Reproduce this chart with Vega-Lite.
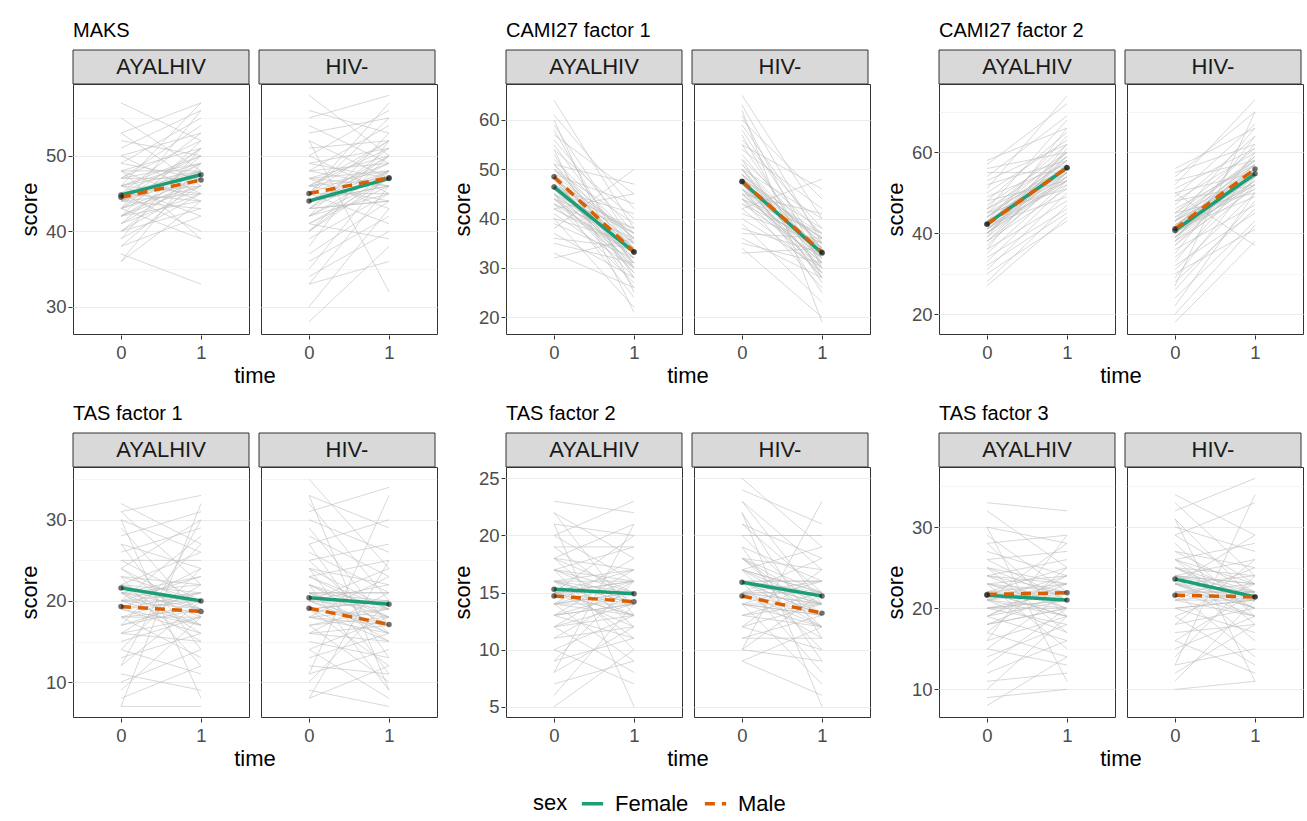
{
"$schema": "https://vega.github.io/schema/vega-lite/v6.json",
"padding": {"left": 18, "top": 20, "right": 5, "bottom": 5},
"background": "white",
"datasets": {
"MAKS": [
{"g":"AYALHIV","a":57,"b":52},{"g":"AYALHIV","a":55,"b":48},{"g":"AYALHIV","a":53,"b":57},{"g":"AYALHIV","a":52,"b":50},{"g":"AYALHIV","a":51,"b":56},{"g":"AYALHIV","a":50,"b":45},{"g":"AYALHIV","a":50,"b":53},{"g":"AYALHIV","a":49,"b":55},{"g":"AYALHIV","a":48,"b":44},{"g":"AYALHIV","a":48,"b":51},{"g":"AYALHIV","a":47,"b":49},{"g":"AYALHIV","a":47,"b":54},{"g":"AYALHIV","a":46,"b":42},{"g":"AYALHIV","a":46,"b":50},{"g":"AYALHIV","a":45,"b":48},{"g":"AYALHIV","a":45,"b":53},{"g":"AYALHIV","a":45,"b":40},{"g":"AYALHIV","a":44,"b":47},{"g":"AYALHIV","a":44,"b":51},{"g":"AYALHIV","a":44,"b":45},{"g":"AYALHIV","a":43,"b":49},{"g":"AYALHIV","a":43,"b":56},{"g":"AYALHIV","a":43,"b":39},{"g":"AYALHIV","a":42,"b":46},{"g":"AYALHIV","a":42,"b":52},{"g":"AYALHIV","a":42,"b":44},{"g":"AYALHIV","a":41,"b":47},{"g":"AYALHIV","a":41,"b":50},{"g":"AYALHIV","a":40,"b":43},{"g":"AYALHIV","a":40,"b":48},{"g":"AYALHIV","a":39,"b":45},{"g":"AYALHIV","a":39,"b":51},{"g":"AYALHIV","a":38,"b":42},{"g":"AYALHIV","a":38,"b":47},{"g":"AYALHIV","a":37,"b":33},{"g":"AYALHIV","a":36,"b":44},{"g":"AYALHIV","a":36,"b":49},{"g":"AYALHIV","a":46,"b":57},{"g":"AYALHIV","a":53,"b":46},{"g":"AYALHIV","a":48,"b":39},
{"g":"AYALHIV","a":47,"b":47},{"g":"AYALHIV","a":46,"b":48},{"g":"AYALHIV","a":45,"b":46},{"g":"AYALHIV","a":44,"b":49},{"g":"AYALHIV","a":43,"b":47},{"g":"AYALHIV","a":42,"b":48},{"g":"AYALHIV","a":46,"b":45},{"g":"AYALHIV","a":45,"b":50},{"g":"AYALHIV","a":44,"b":43},{"g":"AYALHIV","a":43,"b":46},{"g":"AYALHIV","a":48,"b":48},{"g":"AYALHIV","a":41,"b":45},{"g":"AYALHIV","a":47,"b":52},{"g":"AYALHIV","a":44,"b":48},{"g":"AYALHIV","a":45,"b":44},{"g":"AYALHIV","a":43,"b":51},{"g":"AYALHIV","a":46,"b":49},{"g":"AYALHIV","a":42,"b":47},{"g":"AYALHIV","a":49,"b":47},{"g":"AYALHIV","a":40,"b":46},
{"g":"HIV-","a":58,"b":50},{"g":"HIV-","a":56,"b":53},{"g":"HIV-","a":55,"b":58},{"g":"HIV-","a":54,"b":49},{"g":"HIV-","a":53,"b":55},{"g":"HIV-","a":52,"b":47},{"g":"HIV-","a":51,"b":52},{"g":"HIV-","a":50,"b":56},{"g":"HIV-","a":50,"b":45},{"g":"HIV-","a":49,"b":51},{"g":"HIV-","a":48,"b":54},{"g":"HIV-","a":48,"b":46},{"g":"HIV-","a":47,"b":50},{"g":"HIV-","a":47,"b":43},{"g":"HIV-","a":46,"b":52},{"g":"HIV-","a":46,"b":48},{"g":"HIV-","a":45,"b":55},{"g":"HIV-","a":45,"b":41},{"g":"HIV-","a":44,"b":49},{"g":"HIV-","a":44,"b":46},{"g":"HIV-","a":43,"b":51},{"g":"HIV-","a":43,"b":44},{"g":"HIV-","a":42,"b":48},{"g":"HIV-","a":42,"b":53},{"g":"HIV-","a":41,"b":46},{"g":"HIV-","a":41,"b":39},{"g":"HIV-","a":40,"b":47},{"g":"HIV-","a":40,"b":50},{"g":"HIV-","a":39,"b":45},{"g":"HIV-","a":38,"b":52},{"g":"HIV-","a":37,"b":44},{"g":"HIV-","a":36,"b":42},{"g":"HIV-","a":35,"b":48},{"g":"HIV-","a":34,"b":40},{"g":"HIV-","a":33,"b":46},{"g":"HIV-","a":33,"b":36},{"g":"HIV-","a":30,"b":43},{"g":"HIV-","a":28,"b":38},{"g":"HIV-","a":52,"b":32},{"g":"HIV-","a":45,"b":57},
{"g":"HIV-","a":46,"b":47},{"g":"HIV-","a":45,"b":49},{"g":"HIV-","a":44,"b":46},{"g":"HIV-","a":43,"b":48},{"g":"HIV-","a":42,"b":47},{"g":"HIV-","a":47,"b":48},{"g":"HIV-","a":45,"b":45},{"g":"HIV-","a":44,"b":50},{"g":"HIV-","a":43,"b":44},{"g":"HIV-","a":46,"b":51},{"g":"HIV-","a":48,"b":49},{"g":"HIV-","a":41,"b":47},{"g":"HIV-","a":44,"b":48},{"g":"HIV-","a":45,"b":52},{"g":"HIV-","a":42,"b":45},{"g":"HIV-","a":47,"b":46},{"g":"HIV-","a":43,"b":50},{"g":"HIV-","a":46,"b":44},{"g":"HIV-","a":40,"b":48},{"g":"HIV-","a":49,"b":47},
{"g":"AYALHIV","sex":"Female","a":44.8,"b":47.5},{"g":"AYALHIV","sex":"Male","a":44.5,"b":46.8},{"g":"HIV-","sex":"Female","a":44.0,"b":47.0},{"g":"HIV-","sex":"Male","a":45.0,"b":47.1}
],
"CAMI1": [
{"g":"AYALHIV","a":64,"b":38},{"g":"AYALHIV","a":61,"b":42},{"g":"AYALHIV","a":59,"b":35},{"g":"AYALHIV","a":58,"b":30},{"g":"AYALHIV","a":57,"b":45},{"g":"AYALHIV","a":56,"b":37},{"g":"AYALHIV","a":55,"b":33},{"g":"AYALHIV","a":54,"b":40},{"g":"AYALHIV","a":53,"b":28},{"g":"AYALHIV","a":52,"b":36},{"g":"AYALHIV","a":51,"b":47},{"g":"AYALHIV","a":51,"b":31},{"g":"AYALHIV","a":50,"b":34},{"g":"AYALHIV","a":50,"b":39},{"g":"AYALHIV","a":49,"b":26},{"g":"AYALHIV","a":49,"b":43},{"g":"AYALHIV","a":48,"b":35},{"g":"AYALHIV","a":48,"b":30},{"g":"AYALHIV","a":47,"b":37},{"g":"AYALHIV","a":47,"b":32},{"g":"AYALHIV","a":46,"b":41},{"g":"AYALHIV","a":46,"b":29},{"g":"AYALHIV","a":45,"b":34},{"g":"AYALHIV","a":45,"b":24},{"g":"AYALHIV","a":44,"b":38},{"g":"AYALHIV","a":44,"b":31},{"g":"AYALHIV","a":43,"b":36},{"g":"AYALHIV","a":43,"b":27},{"g":"AYALHIV","a":42,"b":33},{"g":"AYALHIV","a":42,"b":45},{"g":"AYALHIV","a":41,"b":30},{"g":"AYALHIV","a":40,"b":35},{"g":"AYALHIV","a":40,"b":22},{"g":"AYALHIV","a":39,"b":32},{"g":"AYALHIV","a":38,"b":50},{"g":"AYALHIV","a":37,"b":28},{"g":"AYALHIV","a":36,"b":34},{"g":"AYALHIV","a":35,"b":31},{"g":"AYALHIV","a":33,"b":26},{"g":"AYALHIV","a":32,"b":36},{"g":"AYALHIV","a":60,"b":25},{"g":"AYALHIV","a":54,"b":21},
{"g":"AYALHIV","a":48,"b":34},{"g":"AYALHIV","a":47,"b":33},{"g":"AYALHIV","a":46,"b":35},{"g":"AYALHIV","a":45,"b":32},{"g":"AYALHIV","a":49,"b":31},{"g":"AYALHIV","a":50,"b":36},{"g":"AYALHIV","a":44,"b":34},{"g":"AYALHIV","a":47,"b":30},{"g":"AYALHIV","a":46,"b":38},{"g":"AYALHIV","a":48,"b":29},{"g":"AYALHIV","a":43,"b":33},{"g":"AYALHIV","a":51,"b":35},{"g":"AYALHIV","a":45,"b":37},{"g":"AYALHIV","a":47,"b":34},{"g":"AYALHIV","a":44,"b":30},{"g":"AYALHIV","a":49,"b":36},{"g":"AYALHIV","a":46,"b":32},{"g":"AYALHIV","a":42,"b":34},{"g":"AYALHIV","a":48,"b":37},{"g":"AYALHIV","a":45,"b":28},
{"g":"HIV-","a":65,"b":40},{"g":"HIV-","a":63,"b":35},{"g":"HIV-","a":61,"b":30},{"g":"HIV-","a":60,"b":44},{"g":"HIV-","a":59,"b":36},{"g":"HIV-","a":58,"b":33},{"g":"HIV-","a":57,"b":28},{"g":"HIV-","a":56,"b":38},{"g":"HIV-","a":55,"b":31},{"g":"HIV-","a":54,"b":42},{"g":"HIV-","a":53,"b":34},{"g":"HIV-","a":52,"b":27},{"g":"HIV-","a":52,"b":37},{"g":"HIV-","a":51,"b":32},{"g":"HIV-","a":50,"b":29},{"g":"HIV-","a":50,"b":40},{"g":"HIV-","a":49,"b":35},{"g":"HIV-","a":49,"b":25},{"g":"HIV-","a":48,"b":33},{"g":"HIV-","a":48,"b":38},{"g":"HIV-","a":47,"b":30},{"g":"HIV-","a":47,"b":36},{"g":"HIV-","a":46,"b":28},{"g":"HIV-","a":46,"b":34},{"g":"HIV-","a":45,"b":41},{"g":"HIV-","a":45,"b":31},{"g":"HIV-","a":44,"b":26},{"g":"HIV-","a":44,"b":37},{"g":"HIV-","a":43,"b":32},{"g":"HIV-","a":42,"b":29},{"g":"HIV-","a":42,"b":48},{"g":"HIV-","a":41,"b":35},{"g":"HIV-","a":40,"b":30},{"g":"HIV-","a":39,"b":23},{"g":"HIV-","a":38,"b":33},{"g":"HIV-","a":37,"b":36},{"g":"HIV-","a":36,"b":28},{"g":"HIV-","a":35,"b":31},{"g":"HIV-","a":34,"b":20},{"g":"HIV-","a":33,"b":34},{"g":"HIV-","a":62,"b":19},{"g":"HIV-","a":55,"b":46},
{"g":"HIV-","a":48,"b":33},{"g":"HIV-","a":47,"b":34},{"g":"HIV-","a":46,"b":32},{"g":"HIV-","a":49,"b":35},{"g":"HIV-","a":45,"b":33},{"g":"HIV-","a":50,"b":31},{"g":"HIV-","a":47,"b":30},{"g":"HIV-","a":48,"b":36},{"g":"HIV-","a":44,"b":34},{"g":"HIV-","a":46,"b":29},{"g":"HIV-","a":51,"b":34},{"g":"HIV-","a":47,"b":37},{"g":"HIV-","a":45,"b":31},{"g":"HIV-","a":49,"b":32},{"g":"HIV-","a":43,"b":35},{"g":"HIV-","a":48,"b":28},{"g":"HIV-","a":46,"b":36},{"g":"HIV-","a":50,"b":33},{"g":"HIV-","a":44,"b":30},{"g":"HIV-","a":47,"b":32},
{"g":"AYALHIV","sex":"Female","a":46.4,"b":33.2},{"g":"AYALHIV","sex":"Male","a":48.5,"b":33.3},{"g":"HIV-","sex":"Female","a":47.5,"b":33.0},{"g":"HIV-","sex":"Male","a":47.6,"b":33.2}
],
"CAMI2": [
{"g":"AYALHIV","a":58,"b":66},{"g":"AYALHIV","a":57,"b":72},{"g":"AYALHIV","a":56,"b":60},{"g":"AYALHIV","a":55,"b":55},{"g":"AYALHIV","a":54,"b":69},{"g":"AYALHIV","a":53,"b":62},{"g":"AYALHIV","a":52,"b":58},{"g":"AYALHIV","a":51,"b":74},{"g":"AYALHIV","a":50,"b":63},{"g":"AYALHIV","a":49,"b":57},{"g":"AYALHIV","a":48,"b":65},{"g":"AYALHIV","a":48,"b":53},{"g":"AYALHIV","a":47,"b":60},{"g":"AYALHIV","a":46,"b":56},{"g":"AYALHIV","a":46,"b":68},{"g":"AYALHIV","a":45,"b":62},{"g":"AYALHIV","a":45,"b":51},{"g":"AYALHIV","a":44,"b":58},{"g":"AYALHIV","a":43,"b":64},{"g":"AYALHIV","a":43,"b":54},{"g":"AYALHIV","a":42,"b":60},{"g":"AYALHIV","a":42,"b":49},{"g":"AYALHIV","a":41,"b":56},{"g":"AYALHIV","a":41,"b":66},{"g":"AYALHIV","a":40,"b":53},{"g":"AYALHIV","a":40,"b":59},{"g":"AYALHIV","a":39,"b":62},{"g":"AYALHIV","a":38,"b":51},{"g":"AYALHIV","a":38,"b":57},{"g":"AYALHIV","a":37,"b":55},{"g":"AYALHIV","a":36,"b":48},{"g":"AYALHIV","a":36,"b":61},{"g":"AYALHIV","a":35,"b":53},{"g":"AYALHIV","a":34,"b":46},{"g":"AYALHIV","a":33,"b":52},{"g":"AYALHIV","a":32,"b":45},{"g":"AYALHIV","a":31,"b":50},{"g":"AYALHIV","a":30,"b":43},{"g":"AYALHIV","a":28,"b":47},{"g":"AYALHIV","a":27,"b":44},
{"g":"AYALHIV","a":42,"b":56},{"g":"AYALHIV","a":43,"b":57},{"g":"AYALHIV","a":41,"b":55},{"g":"AYALHIV","a":44,"b":58},{"g":"AYALHIV","a":40,"b":54},{"g":"AYALHIV","a":42,"b":59},{"g":"AYALHIV","a":43,"b":53},{"g":"AYALHIV","a":41,"b":57},{"g":"AYALHIV","a":45,"b":56},{"g":"AYALHIV","a":39,"b":55},{"g":"AYALHIV","a":42,"b":52},{"g":"AYALHIV","a":44,"b":60},{"g":"AYALHIV","a":40,"b":57},{"g":"AYALHIV","a":43,"b":55},{"g":"AYALHIV","a":41,"b":53},{"g":"AYALHIV","a":46,"b":59},{"g":"AYALHIV","a":38,"b":54},{"g":"AYALHIV","a":42,"b":58},{"g":"AYALHIV","a":44,"b":55},{"g":"AYALHIV","a":40,"b":56},
{"g":"HIV-","a":56,"b":66},{"g":"HIV-","a":55,"b":62},{"g":"HIV-","a":54,"b":70},{"g":"HIV-","a":53,"b":58},{"g":"HIV-","a":52,"b":73},{"g":"HIV-","a":51,"b":61},{"g":"HIV-","a":50,"b":55},{"g":"HIV-","a":49,"b":67},{"g":"HIV-","a":48,"b":60},{"g":"HIV-","a":48,"b":52},{"g":"HIV-","a":47,"b":64},{"g":"HIV-","a":46,"b":57},{"g":"HIV-","a":45,"b":61},{"g":"HIV-","a":45,"b":50},{"g":"HIV-","a":44,"b":58},{"g":"HIV-","a":43,"b":66},{"g":"HIV-","a":43,"b":54},{"g":"HIV-","a":42,"b":56},{"g":"HIV-","a":41,"b":62},{"g":"HIV-","a":41,"b":49},{"g":"HIV-","a":40,"b":59},{"g":"HIV-","a":40,"b":53},{"g":"HIV-","a":39,"b":57},{"g":"HIV-","a":38,"b":64},{"g":"HIV-","a":38,"b":51},{"g":"HIV-","a":37,"b":55},{"g":"HIV-","a":36,"b":47},{"g":"HIV-","a":35,"b":60},{"g":"HIV-","a":34,"b":52},{"g":"HIV-","a":33,"b":56},{"g":"HIV-","a":32,"b":45},{"g":"HIV-","a":31,"b":50},{"g":"HIV-","a":30,"b":41},{"g":"HIV-","a":29,"b":54},{"g":"HIV-","a":28,"b":46},{"g":"HIV-","a":26,"b":48},{"g":"HIV-","a":24,"b":43},{"g":"HIV-","a":22,"b":50},{"g":"HIV-","a":20,"b":42},{"g":"HIV-","a":18,"b":38},{"g":"HIV-","a":50,"b":37},{"g":"HIV-","a":27,"b":70},
{"g":"HIV-","a":41,"b":55},{"g":"HIV-","a":42,"b":56},{"g":"HIV-","a":40,"b":54},{"g":"HIV-","a":43,"b":57},{"g":"HIV-","a":39,"b":53},{"g":"HIV-","a":41,"b":58},{"g":"HIV-","a":42,"b":52},{"g":"HIV-","a":40,"b":56},{"g":"HIV-","a":44,"b":55},{"g":"HIV-","a":38,"b":54},{"g":"HIV-","a":41,"b":51},{"g":"HIV-","a":43,"b":59},{"g":"HIV-","a":39,"b":56},{"g":"HIV-","a":42,"b":54},{"g":"HIV-","a":40,"b":52},{"g":"HIV-","a":45,"b":58},{"g":"HIV-","a":37,"b":53},{"g":"HIV-","a":41,"b":57},{"g":"HIV-","a":43,"b":54},{"g":"HIV-","a":39,"b":55},
{"g":"AYALHIV","sex":"Female","a":42.3,"b":56.2},{"g":"AYALHIV","sex":"Male","a":42.2,"b":56.2},{"g":"HIV-","sex":"Female","a":40.7,"b":54.7},{"g":"HIV-","sex":"Male","a":41.1,"b":55.9}
],
"TAS1": [
{"g":"AYALHIV","a":32,"b":27},{"g":"AYALHIV","a":31,"b":33},{"g":"AYALHIV","a":31,"b":22},{"g":"AYALHIV","a":30,"b":26},{"g":"AYALHIV","a":29,"b":18},{"g":"AYALHIV","a":28,"b":31},{"g":"AYALHIV","a":27,"b":24},{"g":"AYALHIV","a":27,"b":14},{"g":"AYALHIV","a":26,"b":29},{"g":"AYALHIV","a":25,"b":20},{"g":"AYALHIV","a":25,"b":25},{"g":"AYALHIV","a":24,"b":17},{"g":"AYALHIV","a":24,"b":30},{"g":"AYALHIV","a":23,"b":22},{"g":"AYALHIV","a":23,"b":12},{"g":"AYALHIV","a":22,"b":19},{"g":"AYALHIV","a":22,"b":26},{"g":"AYALHIV","a":21,"b":23},{"g":"AYALHIV","a":21,"b":15},{"g":"AYALHIV","a":20,"b":20},{"g":"AYALHIV","a":20,"b":28},{"g":"AYALHIV","a":19,"b":17},{"g":"AYALHIV","a":19,"b":24},{"g":"AYALHIV","a":18,"b":13},{"g":"AYALHIV","a":18,"b":21},{"g":"AYALHIV","a":17,"b":19},{"g":"AYALHIV","a":17,"b":27},{"g":"AYALHIV","a":16,"b":15},{"g":"AYALHIV","a":16,"b":22},{"g":"AYALHIV","a":15,"b":18},{"g":"AYALHIV","a":14,"b":11},{"g":"AYALHIV","a":14,"b":24},{"g":"AYALHIV","a":13,"b":16},{"g":"AYALHIV","a":12,"b":20},{"g":"AYALHIV","a":11,"b":9},{"g":"AYALHIV","a":10,"b":14},{"g":"AYALHIV","a":9,"b":18},{"g":"AYALHIV","a":8,"b":12},{"g":"AYALHIV","a":7,"b":7},{"g":"AYALHIV","a":7,"b":32},{"g":"AYALHIV","a":30,"b":8},{"g":"AYALHIV","a":12,"b":30},
{"g":"AYALHIV","a":21,"b":19},{"g":"AYALHIV","a":20,"b":21},{"g":"AYALHIV","a":22,"b":18},{"g":"AYALHIV","a":19,"b":20},{"g":"AYALHIV","a":20,"b":17},{"g":"AYALHIV","a":23,"b":20},{"g":"AYALHIV","a":18,"b":19},{"g":"AYALHIV","a":21,"b":22},{"g":"AYALHIV","a":19,"b":16},{"g":"AYALHIV","a":22,"b":21},{"g":"AYALHIV","a":20,"b":19},{"g":"AYALHIV","a":17,"b":20},{"g":"AYALHIV","a":21,"b":17},{"g":"AYALHIV","a":24,"b":19},{"g":"AYALHIV","a":18,"b":18},{"g":"AYALHIV","a":20,"b":23},{"g":"AYALHIV","a":22,"b":16},{"g":"AYALHIV","a":19,"b":21},{"g":"AYALHIV","a":16,"b":18},{"g":"AYALHIV","a":21,"b":20},
{"g":"HIV-","a":35,"b":24},{"g":"HIV-","a":33,"b":29},{"g":"HIV-","a":32,"b":20},{"g":"HIV-","a":31,"b":34},{"g":"HIV-","a":30,"b":26},{"g":"HIV-","a":29,"b":17},{"g":"HIV-","a":28,"b":23},{"g":"HIV-","a":27,"b":30},{"g":"HIV-","a":27,"b":13},{"g":"HIV-","a":26,"b":21},{"g":"HIV-","a":25,"b":27},{"g":"HIV-","a":25,"b":16},{"g":"HIV-","a":24,"b":22},{"g":"HIV-","a":24,"b":11},{"g":"HIV-","a":23,"b":19},{"g":"HIV-","a":23,"b":25},{"g":"HIV-","a":22,"b":18},{"g":"HIV-","a":22,"b":9},{"g":"HIV-","a":21,"b":21},{"g":"HIV-","a":21,"b":15},{"g":"HIV-","a":20,"b":24},{"g":"HIV-","a":20,"b":17},{"g":"HIV-","a":19,"b":20},{"g":"HIV-","a":19,"b":12},{"g":"HIV-","a":18,"b":16},{"g":"HIV-","a":18,"b":23},{"g":"HIV-","a":17,"b":19},{"g":"HIV-","a":17,"b":10},{"g":"HIV-","a":16,"b":15},{"g":"HIV-","a":16,"b":21},{"g":"HIV-","a":15,"b":13},{"g":"HIV-","a":14,"b":18},{"g":"HIV-","a":14,"b":8},{"g":"HIV-","a":13,"b":16},{"g":"HIV-","a":12,"b":11},{"g":"HIV-","a":11,"b":14},{"g":"HIV-","a":10,"b":20},{"g":"HIV-","a":9,"b":7},{"g":"HIV-","a":8,"b":12},{"g":"HIV-","a":8,"b":25},{"g":"HIV-","a":33,"b":9},{"g":"HIV-","a":11,"b":33},
{"g":"HIV-","a":20,"b":19},{"g":"HIV-","a":21,"b":18},{"g":"HIV-","a":19,"b":20},{"g":"HIV-","a":22,"b":17},{"g":"HIV-","a":20,"b":16},{"g":"HIV-","a":18,"b":19},{"g":"HIV-","a":21,"b":21},{"g":"HIV-","a":19,"b":17},{"g":"HIV-","a":23,"b":18},{"g":"HIV-","a":20,"b":20},{"g":"HIV-","a":17,"b":18},{"g":"HIV-","a":22,"b":19},{"g":"HIV-","a":19,"b":15},{"g":"HIV-","a":21,"b":16},{"g":"HIV-","a":20,"b":22},{"g":"HIV-","a":18,"b":17},{"g":"HIV-","a":24,"b":19},{"g":"HIV-","a":19,"b":18},{"g":"HIV-","a":21,"b":20},{"g":"HIV-","a":16,"b":17},
{"g":"AYALHIV","sex":"Female","a":21.6,"b":20.0},{"g":"AYALHIV","sex":"Male","a":19.3,"b":18.7},{"g":"HIV-","sex":"Female","a":20.4,"b":19.6},{"g":"HIV-","sex":"Male","a":19.1,"b":17.1}
],
"TAS2": [
{"g":"AYALHIV","a":23,"b":22},{"g":"AYALHIV","a":22,"b":18},{"g":"AYALHIV","a":22,"b":13},{"g":"AYALHIV","a":21,"b":20},{"g":"AYALHIV","a":20,"b":16},{"g":"AYALHIV","a":20,"b":23},{"g":"AYALHIV","a":19,"b":14},{"g":"AYALHIV","a":19,"b":19},{"g":"AYALHIV","a":18,"b":12},{"g":"AYALHIV","a":18,"b":17},{"g":"AYALHIV","a":18,"b":21},{"g":"AYALHIV","a":17,"b":15},{"g":"AYALHIV","a":17,"b":10},{"g":"AYALHIV","a":17,"b":19},{"g":"AYALHIV","a":16,"b":14},{"g":"AYALHIV","a":16,"b":17},{"g":"AYALHIV","a":16,"b":11},{"g":"AYALHIV","a":15,"b":16},{"g":"AYALHIV","a":15,"b":13},{"g":"AYALHIV","a":15,"b":20},{"g":"AYALHIV","a":14,"b":15},{"g":"AYALHIV","a":14,"b":9},{"g":"AYALHIV","a":14,"b":18},{"g":"AYALHIV","a":13,"b":14},{"g":"AYALHIV","a":13,"b":11},{"g":"AYALHIV","a":13,"b":17},{"g":"AYALHIV","a":12,"b":13},{"g":"AYALHIV","a":12,"b":16},{"g":"AYALHIV","a":12,"b":8},{"g":"AYALHIV","a":11,"b":12},{"g":"AYALHIV","a":11,"b":15},{"g":"AYALHIV","a":10,"b":13},{"g":"AYALHIV","a":10,"b":7},{"g":"AYALHIV","a":9,"b":11},{"g":"AYALHIV","a":9,"b":16},{"g":"AYALHIV","a":8,"b":12},{"g":"AYALHIV","a":7,"b":9},{"g":"AYALHIV","a":6,"b":14},{"g":"AYALHIV","a":5,"b":10},{"g":"AYALHIV","a":21,"b":5},{"g":"AYALHIV","a":8,"b":21},
{"g":"AYALHIV","a":15,"b":15},{"g":"AYALHIV","a":16,"b":14},{"g":"AYALHIV","a":14,"b":15},{"g":"AYALHIV","a":15,"b":13},{"g":"AYALHIV","a":16,"b":16},{"g":"AYALHIV","a":14,"b":14},{"g":"AYALHIV","a":15,"b":16},{"g":"AYALHIV","a":17,"b":14},{"g":"AYALHIV","a":13,"b":15},{"g":"AYALHIV","a":15,"b":14},{"g":"AYALHIV","a":16,"b":13},{"g":"AYALHIV","a":14,"b":16},{"g":"AYALHIV","a":15,"b":12},{"g":"AYALHIV","a":17,"b":16},{"g":"AYALHIV","a":13,"b":14},{"g":"AYALHIV","a":16,"b":15},{"g":"AYALHIV","a":14,"b":13},{"g":"AYALHIV","a":15,"b":17},{"g":"AYALHIV","a":18,"b":15},{"g":"AYALHIV","a":12,"b":14},
{"g":"HIV-","a":25,"b":19},{"g":"HIV-","a":24,"b":21},{"g":"HIV-","a":23,"b":14},{"g":"HIV-","a":23,"b":17},{"g":"HIV-","a":22,"b":11},{"g":"HIV-","a":21,"b":18},{"g":"HIV-","a":21,"b":15},{"g":"HIV-","a":20,"b":20},{"g":"HIV-","a":20,"b":13},{"g":"HIV-","a":19,"b":16},{"g":"HIV-","a":19,"b":9},{"g":"HIV-","a":18,"b":14},{"g":"HIV-","a":18,"b":17},{"g":"HIV-","a":18,"b":12},{"g":"HIV-","a":17,"b":15},{"g":"HIV-","a":17,"b":19},{"g":"HIV-","a":17,"b":10},{"g":"HIV-","a":16,"b":13},{"g":"HIV-","a":16,"b":16},{"g":"HIV-","a":16,"b":8},{"g":"HIV-","a":15,"b":14},{"g":"HIV-","a":15,"b":18},{"g":"HIV-","a":15,"b":11},{"g":"HIV-","a":14,"b":13},{"g":"HIV-","a":14,"b":16},{"g":"HIV-","a":14,"b":7},{"g":"HIV-","a":13,"b":12},{"g":"HIV-","a":13,"b":15},{"g":"HIV-","a":12,"b":10},{"g":"HIV-","a":12,"b":14},{"g":"HIV-","a":12,"b":17},{"g":"HIV-","a":11,"b":11},{"g":"HIV-","a":11,"b":13},{"g":"HIV-","a":10,"b":9},{"g":"HIV-","a":10,"b":15},{"g":"HIV-","a":9,"b":12},{"g":"HIV-","a":9,"b":6},{"g":"HIV-","a":22,"b":5},{"g":"HIV-","a":10,"b":23},
{"g":"HIV-","a":16,"b":14},{"g":"HIV-","a":15,"b":14},{"g":"HIV-","a":17,"b":15},{"g":"HIV-","a":15,"b":13},{"g":"HIV-","a":16,"b":15},{"g":"HIV-","a":14,"b":14},{"g":"HIV-","a":16,"b":12},{"g":"HIV-","a":17,"b":14},{"g":"HIV-","a":15,"b":15},{"g":"HIV-","a":18,"b":13},{"g":"HIV-","a":14,"b":13},{"g":"HIV-","a":16,"b":16},{"g":"HIV-","a":15,"b":12},{"g":"HIV-","a":17,"b":13},{"g":"HIV-","a":13,"b":14},{"g":"HIV-","a":16,"b":13},{"g":"HIV-","a":18,"b":15},{"g":"HIV-","a":15,"b":16},{"g":"HIV-","a":14,"b":12},{"g":"HIV-","a":16,"b":14},
{"g":"AYALHIV","sex":"Female","a":15.3,"b":14.9},{"g":"AYALHIV","sex":"Male","a":14.7,"b":14.2},{"g":"HIV-","sex":"Female","a":15.9,"b":14.7},{"g":"HIV-","sex":"Male","a":14.7,"b":13.2}
],
"TAS3": [
{"g":"AYALHIV","a":33,"b":32},{"g":"AYALHIV","a":32,"b":25},{"g":"AYALHIV","a":30,"b":28},{"g":"AYALHIV","a":29,"b":22},{"g":"AYALHIV","a":28,"b":29},{"g":"AYALHIV","a":28,"b":19},{"g":"AYALHIV","a":27,"b":24},{"g":"AYALHIV","a":26,"b":27},{"g":"AYALHIV","a":26,"b":21},{"g":"AYALHIV","a":25,"b":17},{"g":"AYALHIV","a":25,"b":23},{"g":"AYALHIV","a":24,"b":26},{"g":"AYALHIV","a":24,"b":20},{"g":"AYALHIV","a":23,"b":22},{"g":"AYALHIV","a":23,"b":15},{"g":"AYALHIV","a":22,"b":25},{"g":"AYALHIV","a":22,"b":19},{"g":"AYALHIV","a":21,"b":23},{"g":"AYALHIV","a":21,"b":17},{"g":"AYALHIV","a":21,"b":28},{"g":"AYALHIV","a":20,"b":21},{"g":"AYALHIV","a":20,"b":18},{"g":"AYALHIV","a":19,"b":24},{"g":"AYALHIV","a":19,"b":16},{"g":"AYALHIV","a":18,"b":22},{"g":"AYALHIV","a":18,"b":20},{"g":"AYALHIV","a":17,"b":14},{"g":"AYALHIV","a":17,"b":25},{"g":"AYALHIV","a":16,"b":19},{"g":"AYALHIV","a":15,"b":22},{"g":"AYALHIV","a":15,"b":13},{"g":"AYALHIV","a":14,"b":18},{"g":"AYALHIV","a":13,"b":20},{"g":"AYALHIV","a":12,"b":16},{"g":"AYALHIV","a":11,"b":12},{"g":"AYALHIV","a":10,"b":19},{"g":"AYALHIV","a":9,"b":10},{"g":"AYALHIV","a":8,"b":14},{"g":"AYALHIV","a":30,"b":11},{"g":"AYALHIV","a":16,"b":29},
{"g":"AYALHIV","a":22,"b":21},{"g":"AYALHIV","a":21,"b":22},{"g":"AYALHIV","a":23,"b":21},{"g":"AYALHIV","a":20,"b":20},{"g":"AYALHIV","a":22,"b":23},{"g":"AYALHIV","a":21,"b":20},{"g":"AYALHIV","a":24,"b":22},{"g":"AYALHIV","a":19,"b":21},{"g":"AYALHIV","a":22,"b":19},{"g":"AYALHIV","a":23,"b":24},{"g":"AYALHIV","a":20,"b":22},{"g":"AYALHIV","a":21,"b":24},{"g":"AYALHIV","a":25,"b":21},{"g":"AYALHIV","a":18,"b":20},{"g":"AYALHIV","a":22,"b":22},{"g":"AYALHIV","a":21,"b":19},{"g":"AYALHIV","a":24,"b":23},{"g":"AYALHIV","a":20,"b":21},{"g":"AYALHIV","a":23,"b":20},{"g":"AYALHIV","a":19,"b":23},
{"g":"HIV-","a":34,"b":29},{"g":"HIV-","a":33,"b":24},{"g":"HIV-","a":32,"b":36},{"g":"HIV-","a":31,"b":21},{"g":"HIV-","a":30,"b":27},{"g":"HIV-","a":29,"b":23},{"g":"HIV-","a":29,"b":33},{"g":"HIV-","a":28,"b":19},{"g":"HIV-","a":27,"b":25},{"g":"HIV-","a":27,"b":22},{"g":"HIV-","a":26,"b":28},{"g":"HIV-","a":26,"b":18},{"g":"HIV-","a":25,"b":24},{"g":"HIV-","a":25,"b":21},{"g":"HIV-","a":24,"b":26},{"g":"HIV-","a":24,"b":16},{"g":"HIV-","a":24,"b":23},{"g":"HIV-","a":23,"b":20},{"g":"HIV-","a":23,"b":29},{"g":"HIV-","a":22,"b":22},{"g":"HIV-","a":22,"b":14},{"g":"HIV-","a":21,"b":25},{"g":"HIV-","a":21,"b":19},{"g":"HIV-","a":20,"b":21},{"g":"HIV-","a":20,"b":17},{"g":"HIV-","a":19,"b":23},{"g":"HIV-","a":19,"b":13},{"g":"HIV-","a":18,"b":20},{"g":"HIV-","a":18,"b":26},{"g":"HIV-","a":17,"b":18},{"g":"HIV-","a":16,"b":22},{"g":"HIV-","a":16,"b":12},{"g":"HIV-","a":15,"b":19},{"g":"HIV-","a":14,"b":24},{"g":"HIV-","a":13,"b":15},{"g":"HIV-","a":12,"b":18},{"g":"HIV-","a":11,"b":21},{"g":"HIV-","a":10,"b":11},{"g":"HIV-","a":31,"b":11},{"g":"HIV-","a":13,"b":34},
{"g":"HIV-","a":23,"b":21},{"g":"HIV-","a":24,"b":22},{"g":"HIV-","a":22,"b":21},{"g":"HIV-","a":23,"b":20},{"g":"HIV-","a":25,"b":22},{"g":"HIV-","a":22,"b":23},{"g":"HIV-","a":24,"b":20},{"g":"HIV-","a":21,"b":21},{"g":"HIV-","a":23,"b":22},{"g":"HIV-","a":26,"b":21},{"g":"HIV-","a":22,"b":19},{"g":"HIV-","a":24,"b":23},{"g":"HIV-","a":20,"b":21},{"g":"HIV-","a":23,"b":24},{"g":"HIV-","a":25,"b":20},{"g":"HIV-","a":21,"b":22},{"g":"HIV-","a":24,"b":21},{"g":"HIV-","a":22,"b":22},{"g":"HIV-","a":26,"b":23},{"g":"HIV-","a":23,"b":19},
{"g":"AYALHIV","sex":"Female","a":21.6,"b":21.0},{"g":"AYALHIV","sex":"Male","a":21.7,"b":21.9},{"g":"HIV-","sex":"Female","a":23.6,"b":21.4},{"g":"HIV-","sex":"Male","a":21.6,"b":21.4}
],
"groups": [{"g":"AYALHIV"},{"g":"HIV-"}]
},
"vconcat": [
{"hconcat": [
{"spacing": 0, "bounds": "flush", "vconcat": [
 {"width": 362, "height": 34, "title": {"text": "MAKS"}, "data": {"name": "groups"}, "view": {"stroke": null},
  "layer": [
   {"mark": {"type": "rect", "fill": "#d9d9d9", "stroke": "#333333", "strokeWidth": 1},
    "encoding": {"x": {"field": "g", "type": "nominal", "scale": {"paddingInner": 0.0538, "paddingOuter": 0}, "axis": null},
                 "y": {"datum": 0, "type": "quantitative", "scale": {"domain": [0, 1]}, "axis": null}, "y2": {"datum": 1}}},
   {"mark": {"type": "text", "fontSize": 22, "color": "#1a1a1a"},
    "encoding": {"x": {"field": "g", "type": "nominal", "axis": null}, "text": {"field": "g"}}}
  ]},
 {"data": {"name": "MAKS"}, "facet": {"column": {"field": "g", "type": "nominal", "header": {"title": "time", "titleOrient": "bottom", "labels": false}}}, "spacing": 10,
  "spec": {"width": 176, "height": 250, "layer": [
   {"transform": [{"filter": "!isValid(datum.sex)"}], "mark": {"type": "rule", "stroke": "#bdbdbd", "strokeWidth": 0.8, "opacity": 0.75},
    "encoding": {"x": {"datum": 0, "type": "quantitative", "scale": {"domain": [-0.6, 1.6], "nice": false, "zero": false}, "axis": {"values": [0, 1], "title": null, "format": "d"}},
     "x2": {"datum": 1},
     "y": {"field": "a", "type": "quantitative", "title": "score", "scale": {"domain": [26.4, 59.5], "nice": false, "zero": false},
      "axis": {"values": [30, 35, 40, 45, 50, 55], "labelExpr": "datum.value % 10 === 0 ? datum.label : ''",
       "gridWidth": {"condition": {"test": "datum.value % 10 === 0", "value": 1}, "value": 0.5},
       "tickOpacity": {"condition": {"test": "datum.value % 10 === 0", "value": 1}, "value": 0}}},
     "y2": {"field": "b"}}},
   {"transform": [{"filter": "isValid(datum.sex)"}], "mark": {"type": "rule", "strokeWidth": 3.5},
    "encoding": {"x": {"datum": 0, "type": "quantitative"}, "x2": {"datum": 1}, "y": {"field": "a", "type": "quantitative"}, "y2": {"field": "b"},
     "color": {"field": "sex", "type": "nominal", "title": "sex", "scale": {"domain": ["Female", "Male"], "range": ["#1b9e77", "#d95f02"]}},
     "strokeDash": {"field": "sex", "type": "nominal", "title": "sex", "scale": {"domain": ["Female", "Male"], "range": [[1, 0], [10, 7]]}}}},
   {"transform": [{"filter": "isValid(datum.sex)"}], "mark": {"type": "point", "filled": true, "color": "#222222", "opacity": 0.65, "size": 30},
    "encoding": {"x": {"datum": 0, "type": "quantitative"}, "y": {"field": "a", "type": "quantitative"}}},
   {"transform": [{"filter": "isValid(datum.sex)"}], "mark": {"type": "point", "filled": true, "color": "#222222", "opacity": 0.65, "size": 30},
    "encoding": {"x": {"datum": 1, "type": "quantitative"}, "y": {"field": "b", "type": "quantitative"}}}
  ]}}
]},
{"spacing": 0, "bounds": "flush", "vconcat": [
 {"width": 362, "height": 34, "title": {"text": "CAMI27 factor 1"}, "data": {"name": "groups"}, "view": {"stroke": null},
  "layer": [
   {"mark": {"type": "rect", "fill": "#d9d9d9", "stroke": "#333333", "strokeWidth": 1},
    "encoding": {"x": {"field": "g", "type": "nominal", "scale": {"paddingInner": 0.0538, "paddingOuter": 0}, "axis": null},
                 "y": {"datum": 0, "type": "quantitative", "scale": {"domain": [0, 1]}, "axis": null}, "y2": {"datum": 1}}},
   {"mark": {"type": "text", "fontSize": 22, "color": "#1a1a1a"},
    "encoding": {"x": {"field": "g", "type": "nominal", "axis": null}, "text": {"field": "g"}}}
  ]},
 {"data": {"name": "CAMI1"}, "facet": {"column": {"field": "g", "type": "nominal", "header": {"title": "time", "titleOrient": "bottom", "labels": false}}}, "spacing": 10,
  "spec": {"width": 176, "height": 250, "layer": [
   {"transform": [{"filter": "!isValid(datum.sex)"}], "mark": {"type": "rule", "stroke": "#bdbdbd", "strokeWidth": 0.8, "opacity": 0.75},
    "encoding": {"x": {"datum": 0, "type": "quantitative", "scale": {"domain": [-0.6, 1.6], "nice": false, "zero": false}, "axis": {"values": [0, 1], "title": null, "format": "d"}},
     "x2": {"datum": 1},
     "y": {"field": "a", "type": "quantitative", "title": "score", "scale": {"domain": [16.6, 67.3], "nice": false, "zero": false},
      "axis": {"values": [20, 25, 30, 35, 40, 45, 50, 55, 60, 65], "labelExpr": "datum.value % 10 === 0 ? datum.label : ''",
       "gridWidth": {"condition": {"test": "datum.value % 10 === 0", "value": 1}, "value": 0.5},
       "tickOpacity": {"condition": {"test": "datum.value % 10 === 0", "value": 1}, "value": 0}}},
     "y2": {"field": "b"}}},
   {"transform": [{"filter": "isValid(datum.sex)"}], "mark": {"type": "rule", "strokeWidth": 3.5},
    "encoding": {"x": {"datum": 0, "type": "quantitative"}, "x2": {"datum": 1}, "y": {"field": "a", "type": "quantitative"}, "y2": {"field": "b"},
     "color": {"field": "sex", "type": "nominal", "title": "sex", "scale": {"domain": ["Female", "Male"], "range": ["#1b9e77", "#d95f02"]}},
     "strokeDash": {"field": "sex", "type": "nominal", "title": "sex", "scale": {"domain": ["Female", "Male"], "range": [[1, 0], [10, 7]]}}}},
   {"transform": [{"filter": "isValid(datum.sex)"}], "mark": {"type": "point", "filled": true, "color": "#222222", "opacity": 0.65, "size": 30},
    "encoding": {"x": {"datum": 0, "type": "quantitative"}, "y": {"field": "a", "type": "quantitative"}}},
   {"transform": [{"filter": "isValid(datum.sex)"}], "mark": {"type": "point", "filled": true, "color": "#222222", "opacity": 0.65, "size": 30},
    "encoding": {"x": {"datum": 1, "type": "quantitative"}, "y": {"field": "b", "type": "quantitative"}}}
  ]}}
]},
{"spacing": 0, "bounds": "flush", "vconcat": [
 {"width": 362, "height": 34, "title": {"text": "CAMI27 factor 2"}, "data": {"name": "groups"}, "view": {"stroke": null},
  "layer": [
   {"mark": {"type": "rect", "fill": "#d9d9d9", "stroke": "#333333", "strokeWidth": 1},
    "encoding": {"x": {"field": "g", "type": "nominal", "scale": {"paddingInner": 0.0538, "paddingOuter": 0}, "axis": null},
                 "y": {"datum": 0, "type": "quantitative", "scale": {"domain": [0, 1]}, "axis": null}, "y2": {"datum": 1}}},
   {"mark": {"type": "text", "fontSize": 22, "color": "#1a1a1a"},
    "encoding": {"x": {"field": "g", "type": "nominal", "axis": null}, "text": {"field": "g"}}}
  ]},
 {"data": {"name": "CAMI2"}, "facet": {"column": {"field": "g", "type": "nominal", "header": {"title": "time", "titleOrient": "bottom", "labels": false}}}, "spacing": 10,
  "spec": {"width": 176, "height": 250, "layer": [
   {"transform": [{"filter": "!isValid(datum.sex)"}], "mark": {"type": "rule", "stroke": "#bdbdbd", "strokeWidth": 0.8, "opacity": 0.75},
    "encoding": {"x": {"datum": 0, "type": "quantitative", "scale": {"domain": [-0.6, 1.6], "nice": false, "zero": false}, "axis": {"values": [0, 1], "title": null, "format": "d"}},
     "x2": {"datum": 1},
     "y": {"field": "a", "type": "quantitative", "title": "score", "scale": {"domain": [15.1, 76.9], "nice": false, "zero": false},
      "axis": {"values": [20, 30, 40, 50, 60, 70], "labelExpr": "datum.value % 20 === 0 ? datum.label : ''",
       "gridWidth": {"condition": {"test": "datum.value % 20 === 0", "value": 1}, "value": 0.5},
       "tickOpacity": {"condition": {"test": "datum.value % 20 === 0", "value": 1}, "value": 0}}},
     "y2": {"field": "b"}}},
   {"transform": [{"filter": "isValid(datum.sex)"}], "mark": {"type": "rule", "strokeWidth": 3.5},
    "encoding": {"x": {"datum": 0, "type": "quantitative"}, "x2": {"datum": 1}, "y": {"field": "a", "type": "quantitative"}, "y2": {"field": "b"},
     "color": {"field": "sex", "type": "nominal", "title": "sex", "scale": {"domain": ["Female", "Male"], "range": ["#1b9e77", "#d95f02"]}},
     "strokeDash": {"field": "sex", "type": "nominal", "title": "sex", "scale": {"domain": ["Female", "Male"], "range": [[1, 0], [10, 7]]}}}},
   {"transform": [{"filter": "isValid(datum.sex)"}], "mark": {"type": "point", "filled": true, "color": "#222222", "opacity": 0.65, "size": 30},
    "encoding": {"x": {"datum": 0, "type": "quantitative"}, "y": {"field": "a", "type": "quantitative"}}},
   {"transform": [{"filter": "isValid(datum.sex)"}], "mark": {"type": "point", "filled": true, "color": "#222222", "opacity": 0.65, "size": 30},
    "encoding": {"x": {"datum": 1, "type": "quantitative"}, "y": {"field": "b", "type": "quantitative"}}}
  ]}}
]}
]},
{"hconcat": [
{"spacing": 0, "bounds": "flush", "vconcat": [
 {"width": 362, "height": 34, "title": {"text": "TAS factor 1"}, "data": {"name": "groups"}, "view": {"stroke": null},
  "layer": [
   {"mark": {"type": "rect", "fill": "#d9d9d9", "stroke": "#333333", "strokeWidth": 1},
    "encoding": {"x": {"field": "g", "type": "nominal", "scale": {"paddingInner": 0.0538, "paddingOuter": 0}, "axis": null},
                 "y": {"datum": 0, "type": "quantitative", "scale": {"domain": [0, 1]}, "axis": null}, "y2": {"datum": 1}}},
   {"mark": {"type": "text", "fontSize": 22, "color": "#1a1a1a"},
    "encoding": {"x": {"field": "g", "type": "nominal", "axis": null}, "text": {"field": "g"}}}
  ]},
 {"data": {"name": "TAS1"}, "facet": {"column": {"field": "g", "type": "nominal", "header": {"title": "time", "titleOrient": "bottom", "labels": false}}}, "spacing": 10,
  "spec": {"width": 176, "height": 250, "layer": [
   {"transform": [{"filter": "!isValid(datum.sex)"}], "mark": {"type": "rule", "stroke": "#bdbdbd", "strokeWidth": 0.8, "opacity": 0.75},
    "encoding": {"x": {"datum": 0, "type": "quantitative", "scale": {"domain": [-0.6, 1.6], "nice": false, "zero": false}, "axis": {"values": [0, 1], "title": null, "format": "d"}},
     "x2": {"datum": 1},
     "y": {"field": "a", "type": "quantitative", "title": "score", "scale": {"domain": [5.7, 36.5], "nice": false, "zero": false},
      "axis": {"values": [10, 15, 20, 25, 30, 35], "labelExpr": "datum.value % 10 === 0 ? datum.label : ''",
       "gridWidth": {"condition": {"test": "datum.value % 10 === 0", "value": 1}, "value": 0.5},
       "tickOpacity": {"condition": {"test": "datum.value % 10 === 0", "value": 1}, "value": 0}}},
     "y2": {"field": "b"}}},
   {"transform": [{"filter": "isValid(datum.sex)"}], "mark": {"type": "rule", "strokeWidth": 3.5},
    "encoding": {"x": {"datum": 0, "type": "quantitative"}, "x2": {"datum": 1}, "y": {"field": "a", "type": "quantitative"}, "y2": {"field": "b"},
     "color": {"field": "sex", "type": "nominal", "title": "sex", "scale": {"domain": ["Female", "Male"], "range": ["#1b9e77", "#d95f02"]}},
     "strokeDash": {"field": "sex", "type": "nominal", "title": "sex", "scale": {"domain": ["Female", "Male"], "range": [[1, 0], [10, 7]]}}}},
   {"transform": [{"filter": "isValid(datum.sex)"}], "mark": {"type": "point", "filled": true, "color": "#222222", "opacity": 0.65, "size": 30},
    "encoding": {"x": {"datum": 0, "type": "quantitative"}, "y": {"field": "a", "type": "quantitative"}}},
   {"transform": [{"filter": "isValid(datum.sex)"}], "mark": {"type": "point", "filled": true, "color": "#222222", "opacity": 0.65, "size": 30},
    "encoding": {"x": {"datum": 1, "type": "quantitative"}, "y": {"field": "b", "type": "quantitative"}}}
  ]}}
]},
{"spacing": 0, "bounds": "flush", "vconcat": [
 {"width": 362, "height": 34, "title": {"text": "TAS factor 2"}, "data": {"name": "groups"}, "view": {"stroke": null},
  "layer": [
   {"mark": {"type": "rect", "fill": "#d9d9d9", "stroke": "#333333", "strokeWidth": 1},
    "encoding": {"x": {"field": "g", "type": "nominal", "scale": {"paddingInner": 0.0538, "paddingOuter": 0}, "axis": null},
                 "y": {"datum": 0, "type": "quantitative", "scale": {"domain": [0, 1]}, "axis": null}, "y2": {"datum": 1}}},
   {"mark": {"type": "text", "fontSize": 22, "color": "#1a1a1a"},
    "encoding": {"x": {"field": "g", "type": "nominal", "axis": null}, "text": {"field": "g"}}}
  ]},
 {"data": {"name": "TAS2"}, "facet": {"column": {"field": "g", "type": "nominal", "header": {"title": "time", "titleOrient": "bottom", "labels": false}}}, "spacing": 10,
  "spec": {"width": 176, "height": 250, "layer": [
   {"transform": [{"filter": "!isValid(datum.sex)"}], "mark": {"type": "rule", "stroke": "#bdbdbd", "strokeWidth": 0.8, "opacity": 0.75},
    "encoding": {"x": {"datum": 0, "type": "quantitative", "scale": {"domain": [-0.6, 1.6], "nice": false, "zero": false}, "axis": {"values": [0, 1], "title": null, "format": "d"}},
     "x2": {"datum": 1},
     "y": {"field": "a", "type": "quantitative", "title": "score", "scale": {"domain": [4.1, 26.0], "nice": false, "zero": false},
      "axis": {"values": [5, 7.5, 10, 12.5, 15, 17.5, 20, 22.5, 25], "labelExpr": "datum.value % 5 === 0 ? datum.label : ''",
       "gridWidth": {"condition": {"test": "datum.value % 5 === 0", "value": 1}, "value": 0.5},
       "tickOpacity": {"condition": {"test": "datum.value % 5 === 0", "value": 1}, "value": 0}}},
     "y2": {"field": "b"}}},
   {"transform": [{"filter": "isValid(datum.sex)"}], "mark": {"type": "rule", "strokeWidth": 3.5},
    "encoding": {"x": {"datum": 0, "type": "quantitative"}, "x2": {"datum": 1}, "y": {"field": "a", "type": "quantitative"}, "y2": {"field": "b"},
     "color": {"field": "sex", "type": "nominal", "title": "sex", "scale": {"domain": ["Female", "Male"], "range": ["#1b9e77", "#d95f02"]}},
     "strokeDash": {"field": "sex", "type": "nominal", "title": "sex", "scale": {"domain": ["Female", "Male"], "range": [[1, 0], [10, 7]]}}}},
   {"transform": [{"filter": "isValid(datum.sex)"}], "mark": {"type": "point", "filled": true, "color": "#222222", "opacity": 0.65, "size": 30},
    "encoding": {"x": {"datum": 0, "type": "quantitative"}, "y": {"field": "a", "type": "quantitative"}}},
   {"transform": [{"filter": "isValid(datum.sex)"}], "mark": {"type": "point", "filled": true, "color": "#222222", "opacity": 0.65, "size": 30},
    "encoding": {"x": {"datum": 1, "type": "quantitative"}, "y": {"field": "b", "type": "quantitative"}}}
  ]}}
]},
{"spacing": 0, "bounds": "flush", "vconcat": [
 {"width": 362, "height": 34, "title": {"text": "TAS factor 3"}, "data": {"name": "groups"}, "view": {"stroke": null},
  "layer": [
   {"mark": {"type": "rect", "fill": "#d9d9d9", "stroke": "#333333", "strokeWidth": 1},
    "encoding": {"x": {"field": "g", "type": "nominal", "scale": {"paddingInner": 0.0538, "paddingOuter": 0}, "axis": null},
                 "y": {"datum": 0, "type": "quantitative", "scale": {"domain": [0, 1]}, "axis": null}, "y2": {"datum": 1}}},
   {"mark": {"type": "text", "fontSize": 22, "color": "#1a1a1a"},
    "encoding": {"x": {"field": "g", "type": "nominal", "axis": null}, "text": {"field": "g"}}}
  ]},
 {"data": {"name": "TAS3"}, "facet": {"column": {"field": "g", "type": "nominal", "header": {"title": "time", "titleOrient": "bottom", "labels": false}}}, "spacing": 10,
  "spec": {"width": 176, "height": 250, "layer": [
   {"transform": [{"filter": "!isValid(datum.sex)"}], "mark": {"type": "rule", "stroke": "#bdbdbd", "strokeWidth": 0.8, "opacity": 0.75},
    "encoding": {"x": {"datum": 0, "type": "quantitative", "scale": {"domain": [-0.6, 1.6], "nice": false, "zero": false}, "axis": {"values": [0, 1], "title": null, "format": "d"}},
     "x2": {"datum": 1},
     "y": {"field": "a", "type": "quantitative", "title": "score", "scale": {"domain": [6.6, 37.4], "nice": false, "zero": false},
      "axis": {"values": [10, 15, 20, 25, 30, 35], "labelExpr": "datum.value % 10 === 0 ? datum.label : ''",
       "gridWidth": {"condition": {"test": "datum.value % 10 === 0", "value": 1}, "value": 0.5},
       "tickOpacity": {"condition": {"test": "datum.value % 10 === 0", "value": 1}, "value": 0}}},
     "y2": {"field": "b"}}},
   {"transform": [{"filter": "isValid(datum.sex)"}], "mark": {"type": "rule", "strokeWidth": 3.5},
    "encoding": {"x": {"datum": 0, "type": "quantitative"}, "x2": {"datum": 1}, "y": {"field": "a", "type": "quantitative"}, "y2": {"field": "b"},
     "color": {"field": "sex", "type": "nominal", "title": "sex", "scale": {"domain": ["Female", "Male"], "range": ["#1b9e77", "#d95f02"]}},
     "strokeDash": {"field": "sex", "type": "nominal", "title": "sex", "scale": {"domain": ["Female", "Male"], "range": [[1, 0], [10, 7]]}}}},
   {"transform": [{"filter": "isValid(datum.sex)"}], "mark": {"type": "point", "filled": true, "color": "#222222", "opacity": 0.65, "size": 30},
    "encoding": {"x": {"datum": 0, "type": "quantitative"}, "y": {"field": "a", "type": "quantitative"}}},
   {"transform": [{"filter": "isValid(datum.sex)"}], "mark": {"type": "point", "filled": true, "color": "#222222", "opacity": 0.65, "size": 30},
    "encoding": {"x": {"datum": 1, "type": "quantitative"}, "y": {"field": "b", "type": "quantitative"}}}
  ]}}
]}
]}
],
"spacing": 16,
"config": {
 "font": "Liberation Sans",
 "concat": {"spacing": 13},
 "view": {"stroke": "#333333", "strokeWidth": 1},
 "header": {"titleFontSize": 22, "titleFontWeight": "normal", "titleColor": "#000000", "titleFont": "Liberation Sans", "titlePadding": -6},
 "axis": {"domain": false, "gridColor": "#ebebeb", "gridWidth": 1, "tickColor": "#333333", "tickSize": 4, "labelPadding": 2,
  "labelColor": "#4d4d4d", "labelFontSize": 18.5, "labelFont": "Liberation Sans",
  "titleFontSize": 22, "titleFontWeight": "normal", "titleColor": "#000000", "titleFont": "Liberation Sans", "titlePadding": 4},
 "axisX": {"labelPadding": 4},
 "title": {"anchor": "start", "fontSize": 20, "fontWeight": "normal", "font": "Liberation Sans", "color": "#000000", "offset": 9, "frame": "group"},
 "legend": {"orient": "none", "legendX": 460, "legendY": 741, "direction": "horizontal", "titleOrient": "left", "titleFontSize": 22, "titleFontWeight": "normal",
  "titleColor": "#000000", "labelFontSize": 22, "labelColor": "#000000", "symbolType": "stroke", "symbolSize": 450, "symbolStrokeWidth": 3.5,
  "columnPadding": 8, "labelOffset": 10, "titlePadding": 12, "titleFont": "Liberation Sans", "labelFont": "Liberation Sans"}
}
}
